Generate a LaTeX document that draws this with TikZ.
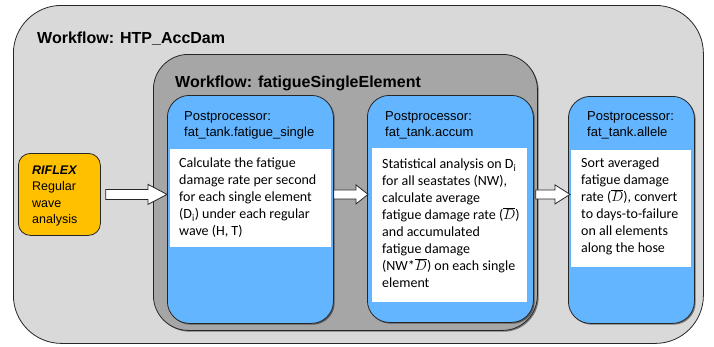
\documentclass[tikz,border=0pt]{standalone}
\usepackage{fontspec}
\setmainfont{Liberation Sans}
\newfontfamily\bodyfont{Carlito}
\usetikzlibrary{shadows,calc}

\definecolor{outerfill}{HTML}{D9D9D9}
\definecolor{innerfill}{HTML}{A6A6A6}
\definecolor{procfill}{RGB}{99,181,255}
\definecolor{toolfill}{HTML}{FFC000}
\definecolor{edgecol}{HTML}{262626}

\tikzset{
  panel/.style={draw=edgecol, line width=0.8pt, anchor=north west, inner sep=0pt},
  shadowed/.style={drop shadow={shadow xshift=1.3pt, shadow yshift=-1.3pt, fill=black, opacity=0.45}},
  procbox/.style={panel, shadowed, fill=procfill, rounded corners=22pt},
  notebox/.style={anchor=north west, inner sep=0pt, fill=white},
  wftitle/.style={anchor=base west, inner sep=0pt, font=\fontsize{16}{19}\selectfont\bfseries},
  header/.style={anchor=north west, inner sep=0pt, align=left, font=\fontsize{13}{16}\selectfont},
  bodytext/.style={anchor=north west, inner sep=0pt, align=left, font=\bodyfont\fontsize{14}{17}\selectfont},
  blockarrow/.style={draw=edgecol, line width=0.8pt, fill=white, line join=miter},
}

% white block arrow: start, end, head length, half shaft, half head
\newcommand\fatarrow[5]{%
  \draw[blockarrow] let \p1=(#1), \p2=(#2) in
    (\x1,\y1+#4) -- (\x2-#3,\y1+#4) -- (\x2-#3,\y1+#5) -- (\x2,\y1)
    -- (\x2-#3,\y1-#5) -- (\x2-#3,\y1-#4) -- (\x1,\y1-#4) -- cycle;}

\begin{document}
\begin{tikzpicture}[x=1pt, y=-1pt]
\useasboundingbox (0,0) rectangle (714,346);

% outer workflow
\node[panel, fill=outerfill, rounded corners=48pt,
      minimum width=690pt, minimum height=338pt] (outer) at (13,5) {};
\node[wftitle] (outertitle) at (37,43) {Workflow: HTP\_AccDam};

% inner workflow
\node[panel, shadowed, fill=innerfill, rounded corners=35pt,
      minimum width=384pt, minimum height=276pt] (inner) at (153,54) {};
\node[wftitle] (innertitle) at (175,87) {Workflow: fatigueSingleElement};

% RIFLEX analysis
\node[panel, fill=toolfill, rounded corners=12pt,
      minimum width=82pt, minimum height=82pt] (tool) at (18,153) {};
\node[anchor=north west, inner sep=0pt, align=left,
      font=\fontsize{12.5}{16.5}\selectfont] (tooltext) at (32,165.5)
  {\textbf{\textit{RIFLEX}}\\Regular\\wave\\analysis};

% postprocessor 1
\node[procbox, minimum width=166pt, minimum height=228pt] (proc1) at (167,95) {};
\node[notebox, minimum width=161pt, minimum height=98pt] (note1) at (170,149) {};
\node[header] (head1) at (184,111.5) {Postprocessor:\\fat\_tank.fatigue\_single};
\node[bodytext] (body1) at (179,158)
  {Calculate the fatigue\\damage rate per second\\for each single element\\
   (D\textsubscript{i}) under each regular\\wave (H, T)};

% postprocessor 2
\node[procbox, minimum width=166pt, minimum height=227pt] (proc2) at (367,95) {};
\node[notebox, minimum width=155pt, minimum height=154pt] (note2) at (372,148) {};
\node[header] (head2) at (385,111.5) {Postprocessor:\\fat\_tank.accum};
\node[bodytext] (body2) at (382,159)
  {Statistical analysis on D\textsubscript{i}\\for all seastates (NW),\\
   calculate average\\fatigue damage rate ($\overline{D}$)\\and accumulated\\
   fatigue damage\\(NW*$\overline{D}$) on each single\\element};

% postprocessor 3
\node[procbox, minimum width=126pt, minimum height=227pt] (proc3) at (568,96) {};
\node[notebox, minimum width=120pt, minimum height=117pt] (note3) at (571,150) {};
\node[header] (head3) at (587,111.5) {Postprocessor:\\fat\_tank.allele};
\node[bodytext] (body3) at (581,158)
  {Sort averaged\\fatigue damage\\rate ($\overline{D}$), convert\\
   to days-to-failure\\on all elements\\along the hose};

% flow arrows
\fatarrow{$(tool.east)+(5,0)$}{proc1.west |- tool.east}{19pt}{5pt}{10pt}
\fatarrow{proc1.east |- tool.east}{$(proc2.west |- tool.east)+(1,0)$}{12pt}{4.5pt}{9.5pt}
\fatarrow{$(proc2.east |- tool.east)+(2,0)$}{$(proc3.west |- tool.east)+(2,0)$}{15pt}{4.5pt}{9.5pt}
\end{tikzpicture}
\end{document}
